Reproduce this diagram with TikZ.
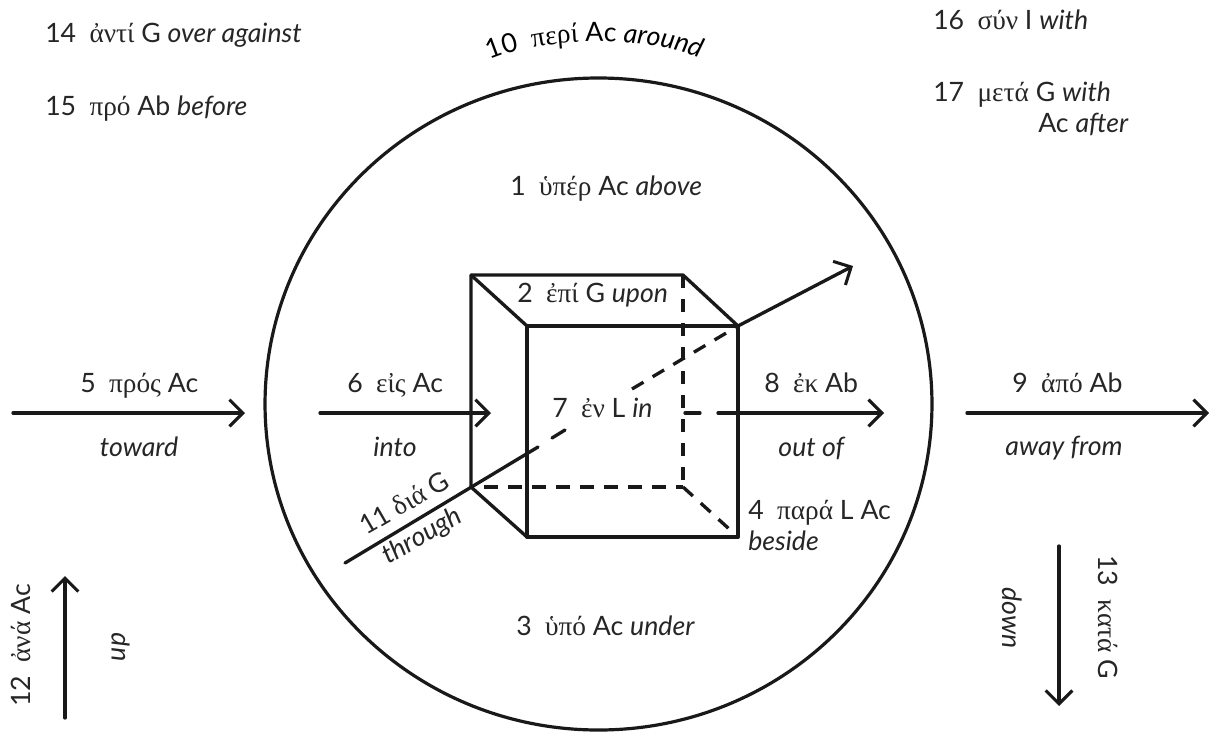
\documentclass[tikz,border=0pt]{standalone}
\usepackage{fontspec}
\setmainfont{Lato}
\newfontfamily\gk{Liberation Serif}
\usetikzlibrary{arrows.meta,decorations.text}
\newcommand{\G}[1]{{\gk\fontsize{20.5pt}{22pt}\selectfont #1}}
\tikzset{
 x=0.75pt,y=-0.75pt,
 lbl/.style={inner sep=0pt,anchor=base west,font=\fontsize{20pt}{22pt}\selectfont,text=black!85},
 lblc/.style={inner sep=0pt,anchor=base,font=\fontsize{20pt}{22pt}\selectfont,text=black!85},
 ln/.style={line width=2.5pt,line cap=round,black!90},
 arr/.style={ln,-{Straight Barb[length=10pt,width=20pt,line width=2.3pt]}},
 dsh/.style={line width=2.5pt,black!90,line cap=butt,dash pattern=on 10pt off 8pt},
 box/.style={line width=2.9pt,line cap=round,line join=round,black!90},
 edge/.style={line width=2.5pt,line cap=round,line join=round,black!90},
}
\begin{document}
\begin{tikzpicture}
\useasboundingbox (0,0) rectangle (1217,732);
% circle
\coordinate (cc) at (598.5,404);
\draw[line width=2.4pt,black!90] (cc) ellipse [x radius=250.1pt,y radius=244.5pt];
% cube
\coordinate (btl) at (471,275); \coordinate (btr) at (683,275);
\coordinate (bbl) at (471,487); \coordinate (bbr) at (683,487);
\coordinate (ftl) at (527,326); \coordinate (ftr) at (738,326);
\coordinate (fbl) at (527,537); \coordinate (fbr) at (738,537);
\draw[box] (ftl) rectangle (fbr);
\draw[edge] (bbl) -- (btl) -- (btr) -- (ftr);
\draw[edge] (btl) -- (ftl);
\draw[edge] (bbl) -- (fbl);
\draw[dsh] (btr) -- (bbr);
\draw[dsh,dash phase=8pt] (bbl) -- (bbr);
\draw[dsh] (bbr) -- (fbr);
% through line
\coordinate (ds) at (345,563); \coordinate (d1) at (538,447);
\coordinate (d2) at (552,438); \coordinate (d3) at (565,430);
\coordinate (d4) at (632,389); \coordinate (de) at (853,266);
\draw[ln] (ds) -- (d1);
\draw[ln] (d2) -- (d3);
\draw[dsh] (d4) -- (ftr);
\draw[arr] (ftr) -- (de);
% horizontal arrows
\coordinate (a5) at (13,413); \coordinate (b5) at (245,413);
\coordinate (a6) at (320,413); \coordinate (b6) at (491,413);
\coordinate (a8) at (685,413); \coordinate (m8) at (700,413);
\coordinate (n8) at (718,413); \coordinate (b8) at (884,413);
\coordinate (a9) at (967,413); \coordinate (b9) at (1209,413);
\draw[arr] (a5) -- (b5);
\draw[arr] (a6) -- (b6);
\draw[ln] (a8) -- (m8);
\draw[arr] (n8) -- (b8);
\draw[arr] (a9) -- (b9);
% vertical arrows
\coordinate (a12) at (65,718); \coordinate (b12) at (65,576);
\coordinate (a13) at (1059,546); \coordinate (b13) at (1059,706);
\draw[arr] (a12) -- (b12);
\draw[arr] (a13) -- (b13);
% labels
\node[lbl] (t14) at (45,42) {14\enspace\G{ἀντί} G \textit{over against}};
\node[lbl] (t15) at (45,115) {15\enspace\G{πρό} Ab \textit{before}};
\node[lbl] (t16) at (933,29) {16\enspace\G{σύν} I \textit{with}};
\node[lbl] (t17) at (933,101) {17\enspace\G{μετά} G \textit{with}};
\node[lbl] (t17b) at (1038,132) {Ac \textit{after}};
\node[lbl] (t1) at (510,195) {1\enspace\G{ὑπέρ} Ac \textit{above}};
\node[lbl] (t2) at (517,302) {2\enspace\G{ἐπί} G \textit{upon}};
\node[lbl] (t3) at (516,635) {3\enspace\G{ὑπό} Ac \textit{under}};
\node[lbl] (t4) at (748,519) {4\enspace\G{παρά} L Ac};
\node[lbl] (t4b) at (748,550) {\textit{beside}};
\node[lbl] (t5) at (80,392) {5\enspace\G{πρός} Ac};
\node[lblc] (t5b) at (139,456) {\textit{toward}};
\node[lbl] (t6) at (347,392) {6\enspace\G{εἰς} Ac};
\node[lblc] (t6b) at (395,456) {\textit{into}};
\node[lbl] (t7) at (552,417) {7\enspace\G{ἐν} L \textit{in}};
\node[lbl] (t8) at (764,392) {8\enspace\G{ἐκ} Ab};
\node[lblc] (t8b) at (812,456) {\textit{out of}};
\node[lbl] (t9) at (1012,392) {9\enspace\G{ἀπό} Ab};
\node[lblc] (t9b) at (1064,455) {\textit{away from}};
\node[lbl,rotate=30] (t11) at (366,536) {11 \G{διά} G};
\node[lbl,rotate=30] (t11b) at (388,565) {\textit{through}};
\node[lbl,rotate=90] (t12) at (30,707) {12\enspace\G{ἀνά} Ac};
\node[lblc,rotate=90] (t12b) at (125,647) {\textit{up}};
\node[lbl,rotate=-90] (t13) at (1098,555) {13\enspace\G{κατά} G};
\node[lblc,rotate=-90] (t13b) at (1002,618) {\textit{down}};
% curved label
\coordinate (c1) at (490,60); \coordinate (c2) at (714,64);
\path[decorate,decoration={text along path,text align=left,
  text={|\fontsize{20pt}{22pt}\selectfont|10\ \ |\gk\fontsize{20.5pt}{22pt}\selectfont|περί |\fontsize{20pt}{22pt}\selectfont|Ac |\fontsize{20pt}{22pt}\selectfont\itshape|around}}]
  (c1) .. controls (550,35) and (650,34) .. (c2);
\end{tikzpicture}
\end{document}
